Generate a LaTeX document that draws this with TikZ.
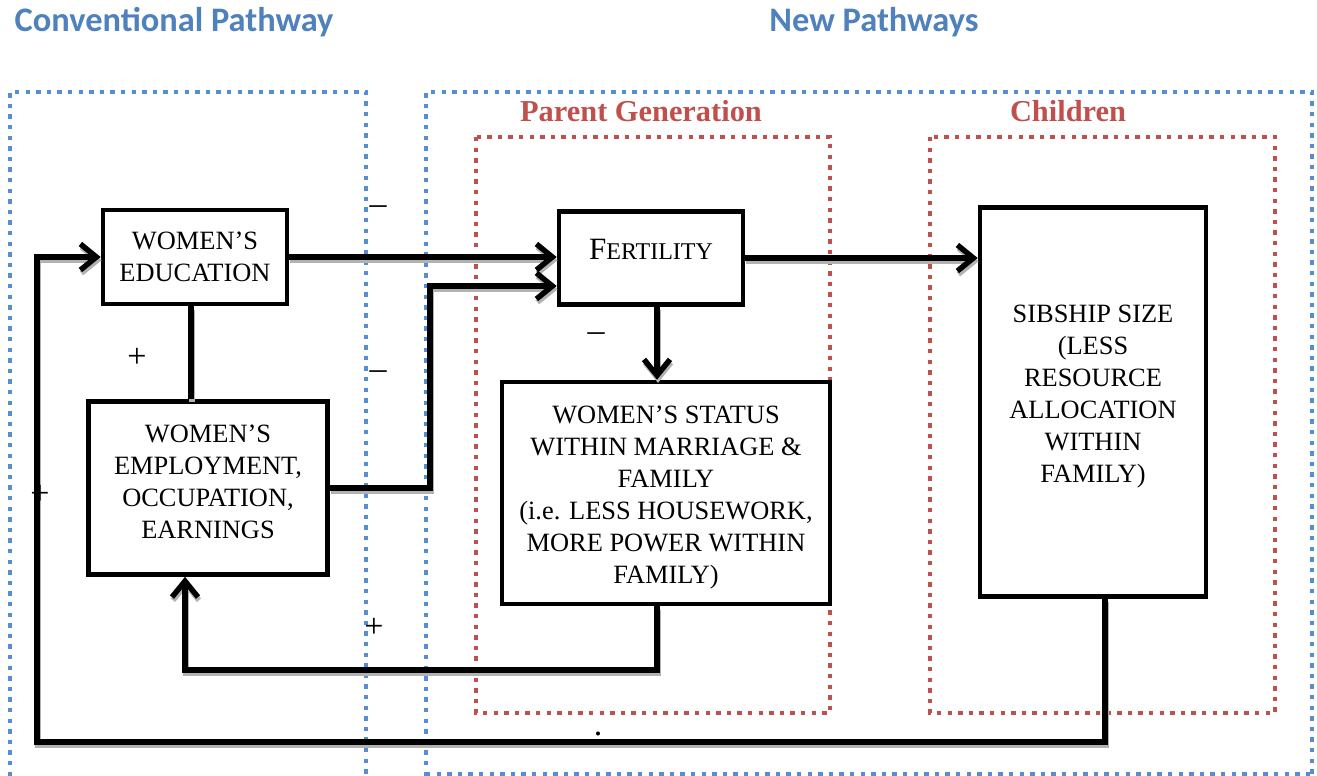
\documentclass[tikz,border=0pt]{standalone}
\usepackage{fontspec}
\setmainfont{Liberation Serif}
\newfontfamily\headfont{Carlito}
\usepackage{tikz}
\usetikzlibrary{arrows.meta}

\definecolor{pathblue}{HTML}{4F81BD}
\definecolor{dotblue}{HTML}{558ED5}
\definecolor{dotred}{HTML}{C0504D}

\tikzset{
    box/.style={draw, line width=2.3pt, align=center, inner sep=0pt,
        font=\fontsize{13.2}{16}\selectfont},
    flow/.style={line width=2.7pt},
    flowshade/.style={flow, draw=black!30, transform canvas={shift={(0.5pt,-1.6pt)}}},
    bluefence/.style={dotblue, line width=2.4pt, dash pattern=on 2.2pt off 3.1pt},
    redfence/.style={dotred, line width=2.4pt, dash pattern=on 2.2pt off 3.1pt},
    sign/.style={font=\fontsize{17}{17}\selectfont, inner sep=0pt}
}

% connector with its grey shadow
\newcommand{\link}[2][]{%
    \draw[flowshade, #1] #2;
    \draw[flow, #1] #2;}
% stacked lines, lifted by #1 from the middle of the box
\newcommand{\lines}[2]{\raisebox{#1}[0pt][0pt]{\begin{tabular}{@{}c@{}}#2\end{tabular}}}

\begin{document}
\begin{tikzpicture}[x=0.5pt, y=-0.5pt, >={Straight Barb[length=8pt, width=13pt]}]
        \useasboundingbox (0,0) rectangle (1317,776);

        % Headings
        \node (hconv) at (174,22) {\headfont\bfseries\fontsize{17.2}{17}\selectfont\color{pathblue}Conventional Pathway};
        \node (hnew) at (874,22) {\headfont\bfseries\fontsize{17.2}{17}\selectfont\color{pathblue}New Pathways};
        \node (hpar) at (641,111) {\bfseries\fontsize{15.2}{15}\selectfont\color{dotred}Parent Generation};
        \node (hchi) at (1068,111) {\bfseries\fontsize{15.2}{15}\selectfont\color{dotred}Children};

        % Dotted frames
        \draw[bluefence] (10,776) -- (10,92) -- (366,92) -- (366,776);
        \draw[bluefence] (426,776) -- (426,92) -- (1312,92) -- (1312,776);
        \draw[bluefence] (426,774) -- (1312,774);
        \draw[redfence] (476,137) rectangle (830,713);
        \draw[redfence] (930,137) rectangle (1275,713);

        % Boxes
        \node[box, minimum width=92pt, minimum height=47pt] (edu) at (195,257)
            {WOMEN'S\\EDUCATION};
        \node[box, minimum width=119.5pt, minimum height=86.5pt] (emp) at (208,488)
            {\lines{-0.8pt}{WOMEN'S\\EMPLOYMENT,\\OCCUPATION,\\EARNINGS}};
        \node[box, minimum width=92pt, minimum height=46.5pt] (fert) at (651,258)
            {\raisebox{9pt}{\fontsize{15.5}{16}\selectfont F\fontsize{12}{16}\selectfont ERTILITY}};
        \node[box, minimum width=164pt, minimum height=111pt] (stat) at (666,493)
            {\lines{-5pt}{WOMEN'S STATUS\\WITHIN MARRIAGE \&\\FAMILY\\(i.e. LESS HOUSEWORK,\\MORE POWER WITHIN\\FAMILY)}};
        \node[box, minimum width=113pt, minimum height=194.5pt] (sib) at (1093,402)
            {\lines{0.2pt}{SIBSHIP SIZE\\(LESS\\RESOURCE\\ALLOCATION\\WITHIN\\FAMILY)}};

        % Bends of the connectors
        \coordinate (bendA) at (430,286);
        \coordinate (loopA) at (185,670);
        \coordinate (loopB) at (37,742);

        % Connectors
        \link[->]{(edu.east) -- (edu.east -| fert.west)}
        \link[->]{(emp.east) -| (bendA) -- (bendA -| fert.west)}
        \link{([xshift=-2pt]edu.south) -- ([xshift=-2pt]edu.south |- emp.north)}
        \link[->]{([xshift=3pt]fert.south) -- ([xshift=3pt]fert.south |- stat.north)}
        \link[->]{(fert.east) -- (fert.east -| sib.west)}
        \link[->]{([xshift=-4.5pt]stat.south) |- (loopA) -- (loopA |- emp.south)}
        \link[->]{([xshift=6pt]sib.south) |- (loopB) |- (edu.west)}

        % Signs
        \node[sign] (s1) at (378,210) {--};
        \node[sign] (s2) at (378,375) {--};
        \node[sign] (s3) at (137,358) {+};
        \node[sign] (s4) at (40,495) {+};
        \node[sign] (s5) at (374,628) {+};
        \node[sign] (s6) at (596,337) {--};
        \node[sign] (s7) at (598,734) {.};
        \end{tikzpicture}
\end{document}
